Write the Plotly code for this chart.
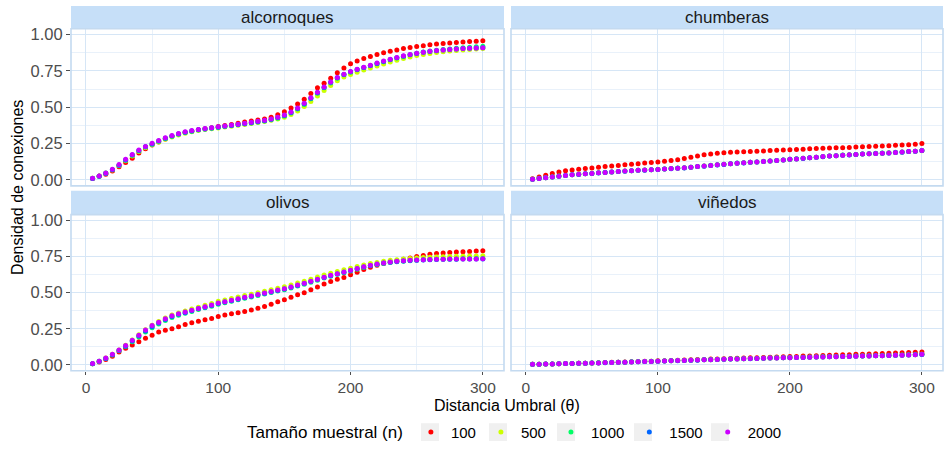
import plotly.graph_objects as go

# Umbral de distancia evaluado (eje x común a los cuatro paneles)
distancia = list(range(5, 305, 5))

tamanos = ["100", "500", "1000", "1500", "2000"]
colores = ["#FF0000", "#CCFF00", "#00FF66", "#0066FF", "#CC00FF"]
paneles = ["alcornoques", "chumberas", "olivos", "viñedos"]

# ---- alcornoques ----
alc_100 = [.010, .028, .040, .062, .090, .120, .150, .185, .215, .240,
           .262, .282, .300, .314, .326, .336, .345, .352, .360, .368,
           .375, .382, .390, .398, .405, .412, .420, .432, .448, .470,
           .495, .522, .555, .595, .635, .665, .700, .738, .770, .800,
           .818, .835, .850, .864, .875, .885, .895, .905, .912, .918,
           .924, .930, .935, .939, .943, .946, .949, .952, .955, .958]
alc_500 = [.012, .026, .046, .068, .098, .132, .165, .195, .222, .243,
           .262, .280, .296, .310, .322, .332, .340, .347, .353, .358,
           .364, .370, .376, .382, .388, .395, .402, .410, .420, .432,
           .450, .475, .505, .540, .578, .615, .650, .682, .708, .726,
           .742, .756, .770, .784, .798, .812, .824, .836, .846, .856,
           .864, .871, .877, .882, .887, .891, .895, .898, .901, .904]
alc_1000 = [.011, .026, .047, .071, .101, .136, .170, .200, .226, .246,
            .266, .285, .301, .316, .326, .336, .343, .350, .356, .362,
            .368, .374, .380, .386, .392, .399, .406, .414, .425, .440,
            .460, .488, .520, .558, .596, .634, .668, .700, .724, .742,
            .758, .772, .786, .800, .814, .828, .840, .852, .862, .872,
            .880, .887, .893, .898, .902, .906, .910, .913, .916, .920]
alc_1500 = [.010, .025, .045, .070, .102, .138, .172, .203, .228, .248,
            .268, .287, .303, .317, .328, .337, .345, .351, .357, .363,
            .369, .375, .381, .387, .394, .401, .408, .417, .429, .444,
            .464, .492, .524, .562, .600, .637, .672, .703, .726, .744,
            .760, .773, .787, .801, .815, .829, .841, .852, .862, .871,
            .878, .884, .889, .894, .898, .901, .904, .906, .908, .910]
alc_2000 = [.011, .027, .048, .073, .106, .142, .176, .206, .231, .252,
            .272, .291, .306, .320, .331, .340, .348, .354, .360, .366,
            .372, .378, .384, .390, .397, .404, .411, .420, .432, .447,
            .468, .496, .528, .565, .603, .640, .674, .705, .728, .746,
            .762, .776, .790, .804, .818, .831, .843, .854, .864, .872,
            .879, .885, .890, .894, .898, .901, .904, .906, .908, .910]

# ---- chumberas ----
chu_100 = [.008, .020, .033, .045, .055, .063, .069, .074, .078, .082,
           .087, .092, .096, .100, .104, .108, .112, .116, .120, .124,
           .128, .133, .139, .147, .156, .165, .173, .179, .184, .188,
           .190, .192, .194, .196, .198, .200, .202, .204, .206, .208,
           .210, .212, .214, .216, .218, .220, .221, .222, .224, .226,
           .228, .230, .232, .234, .236, .238, .240, .243, .246, .250]
chu_500 = [.005, .010, .016, .021, .026, .031, .035, .039, .042, .046,
           .049, .052, .055, .058, .061, .064, .066, .068, .071, .073,
           .075, .078, .081, .084, .088, .092, .096, .100, .104, .108,
           .111, .115, .118, .121, .124, .127, .130, .134, .138, .141,
           .145, .149, .153, .156, .160, .164, .167, .170, .173, .176,
           .178, .180, .182, .184, .187, .189, .192, .195, .198, .201]
chu_1000 = [.005, .011, .015, .021, .027, .031, .036, .039, .043, .045,
            .049, .053, .055, .059, .061, .064, .067, .068, .070, .072,
            .076, .078, .082, .084, .088, .093, .096, .101, .104, .108,
            .112, .116, .118, .122, .124, .128, .131, .134, .138, .142,
            .146, .149, .153, .157, .161, .165, .167, .171, .173, .176,
            .179, .181, .183, .185, .186, .190, .192, .196, .198, .203]
chu_1500 = [.005, .010, .015, .020, .026, .030, .035, .038, .042, .045,
            .048, .052, .054, .058, .060, .063, .066, .067, .070, .072,
            .075, .077, .081, .083, .087, .092, .095, .100, .103, .107,
            .112, .115, .117, .121, .123, .127, .130, .133, .137, .142,
            .145, .148, .152, .157, .160, .164, .166, .170, .172, .175,
            .178, .180, .182, .184, .186, .189, .191, .195, .197, .202]
chu_2000 = [.005, .010, .015, .021, .026, .031, .035, .039, .042, .045,
            .049, .052, .055, .058, .061, .064, .066, .068, .070, .072,
            .075, .078, .081, .084, .088, .092, .096, .100, .104, .108,
            .112, .115, .118, .121, .124, .127, .130, .134, .138, .142,
            .145, .149, .153, .157, .161, .164, .167, .170, .173, .176,
            .178, .180, .182, .184, .186, .189, .192, .195, .198, .202]

# ---- olivos ----
oli_100 = [.008, .020, .037, .060, .090, .115, .138, .160, .185, .205,
           .228, .240, .250, .265, .280, .292, .302, .312, .322, .335,
           .345, .355, .362, .370, .380, .392, .405, .420, .437, .452,
           .468, .485, .500, .520, .540, .560, .578, .593, .606, .624,
           .642, .660, .676, .690, .703, .713, .722, .731, .740, .750,
           .758, .766, .771, .775, .779, .782, .784, .786, .788, .790]
oli_500 = [.008, .026, .047, .073, .104, .136, .172, .208, .244, .274,
           .300, .325, .345, .360, .373, .387, .400, .413, .426, .440,
           .450, .460, .470, .480, .490, .500, .510, .520, .531, .542,
           .554, .567, .580, .594, .608, .622, .635, .647, .659, .670,
           .681, .692, .702, .710, .718, .724, .729, .733, .737, .740,
           .743, .745, .747, .749, .751, .752, .753, .754, .755, .756]
oli_1000 = [.008, .024, .044, .068, .098, .127, .160, .194, .228, .258,
            .284, .308, .328, .344, .357, .370, .383, .395, .407, .420,
            .431, .441, .451, .461, .471, .481, .491, .501, .511, .521,
            .533, .546, .559, .573, .587, .601, .614, .627, .639, .651,
            .663, .675, .686, .695, .703, .709, .714, .718, .722, .725,
            .728, .730, .731, .732, .733, .734, .735, .735, .736, .737]
oli_1500 = [.008, .025, .045, .070, .100, .130, .165, .200, .235, .265,
            .290, .315, .335, .350, .362, .375, .388, .400, .412, .425,
            .435, .445, .455, .465, .475, .485, .495, .505, .515, .525,
            .537, .550, .563, .577, .591, .605, .618, .630, .642, .654,
            .666, .678, .688, .697, .705, .711, .716, .720, .723, .725,
            .727, .729, .730, .731, .732, .732, .733, .733, .733, .734]
oli_2000 = [.009, .026, .047, .073, .104, .135, .170, .206, .242, .272,
            .296, .320, .340, .355, .366, .379, .391, .403, .415, .428,
            .438, .448, .458, .468, .478, .488, .498, .508, .518, .528,
            .540, .553, .566, .580, .594, .607, .620, .632, .644, .656,
            .668, .680, .690, .698, .706, .712, .717, .721, .724, .726,
            .728, .730, .731, .732, .733, .733, .734, .734, .734, .735]

# ---- viñedos ----
vin_100 = [.004, .005, .006, .007, .008, .009, .010, .011, .012, .014,
           .015, .016, .018, .019, .020, .022, .023, .025, .026, .028,
           .029, .031, .032, .034, .035, .037, .038, .040, .041, .043,
           .044, .046, .047, .049, .050, .052, .053, .055, .056, .058,
           .059, .061, .062, .064, .065, .067, .068, .070, .071, .073,
           .074, .076, .077, .079, .080, .082, .084, .086, .088, .090]
vin_500 = [.004, .005, .006, .007, .008, .009, .010, .011, .012, .013,
           .014, .016, .017, .018, .019, .020, .022, .023, .024, .026,
           .027, .028, .030, .031, .032, .034, .035, .036, .038, .039,
           .040, .041, .043, .044, .045, .046, .047, .048, .049, .050,
           .051, .052, .053, .054, .055, .056, .057, .058, .059, .060,
           .061, .062, .063, .064, .065, .066, .067, .069, .071, .073]
vin_1000 = [.004, .005, .006, .007, .008, .009, .010, .011, .012, .013,
            .015, .016, .017, .018, .019, .021, .022, .023, .025, .026,
            .027, .029, .030, .031, .033, .034, .035, .037, .038, .039,
            .040, .042, .043, .044, .045, .046, .047, .049, .050, .051,
            .052, .053, .054, .055, .056, .057, .058, .059, .060, .061,
            .062, .063, .064, .065, .066, .067, .068, .070, .072, .074]
vin_1500 = [.004, .005, .006, .007, .008, .009, .010, .011, .012, .013,
            .014, .015, .017, .018, .019, .020, .021, .023, .024, .025,
            .027, .028, .029, .031, .032, .033, .035, .036, .037, .039,
            .040, .041, .042, .043, .045, .046, .047, .048, .049, .050,
            .051, .052, .053, .054, .055, .056, .057, .058, .059, .060,
            .061, .062, .063, .064, .065, .066, .067, .068, .070, .072]
vin_2000 = [.004, .005, .006, .007, .008, .009, .010, .011, .012, .013,
            .014, .016, .017, .018, .019, .020, .022, .023, .024, .026,
            .027, .028, .030, .031, .032, .034, .035, .036, .038, .039,
            .040, .041, .043, .044, .045, .046, .047, .048, .049, .050,
            .051, .052, .053, .054, .055, .056, .057, .058, .059, .060,
            .061, .062, .063, .064, .065, .066, .067, .069, .071, .073]

densidad = {
    "alcornoques": [alc_100, alc_500, alc_1000, alc_1500, alc_2000],
    "chumberas": [chu_100, chu_500, chu_1000, chu_1500, chu_2000],
    "olivos": [oli_100, oli_500, oli_1000, oli_1500, oli_2000],
    "viñedos": [vin_100, vin_500, vin_1000, vin_1500, vin_2000],
}

W, H = 947, 449
FONT = "Liberation Sans, Arial, sans-serif"
STRIP_FILL = "#C6DFF8"
BORDER = "#C4DAF0"
GRID_MAJOR = "#D6E6F6"
GRID_MINOR = "#E9F1FA"
KEY_FILL = "#F0F0F0"


def fx(p):
    return p / W


def fy(p):
    return 1 - p / H


# panel boxes in pixels: (left, right) per column, (top, bottom, strip top) per row
cols = [(71, 504), (511, 943)]
rows = [(29, 188, 6), (217, 375, 193)]

fig = go.Figure()
layout = {}
shapes = []
annotations = []

for k, panel in enumerate(paneles):
    r, c = divmod(k, 2)
    left, right = cols[c]
    top, bottom, strip_top = rows[r]
    suffix = "" if k == 0 else str(k + 1)
    xa, ya = "x" + suffix, "y" + suffix

    for i, n in enumerate(tamanos):
        fig.add_trace(go.Scatter(
            x=distancia, y=densidad[panel][i], mode="markers",
            marker=dict(color=colores[i], size=5, line=dict(width=0)),
            name=n, legendgroup=n, showlegend=(k == 0),
            xaxis=xa, yaxis=ya, hoverinfo="skip",
        ))

    layout["xaxis" + suffix] = dict(
        domain=[fx(left), fx(right)], anchor=ya,
        range=[-11.3, 316], tickvals=[0, 100, 200, 300],
        showticklabels=(r == 1), ticks="outside" if r == 1 else "",
        ticklen=3, tickwidth=1, tickcolor="#4D4D4D",
        tickfont=dict(family=FONT, size=15.5, color="#4D4D4D"),
        showgrid=True, gridcolor=GRID_MAJOR, gridwidth=1.3,
        minor=dict(tickvals=[50, 150, 250], showgrid=True,
                   gridcolor=GRID_MINOR, gridwidth=1),
        zeroline=False, showline=False, automargin=False, fixedrange=True,
    )
    layout["yaxis" + suffix] = dict(
        domain=[fy(bottom), fy(top)], anchor=xa,
        range=[-0.041, 1.041], tickvals=[0, 0.25, 0.5, 0.75, 1.0],
        ticktext=["0.00", "0.25", "0.50", "0.75", "1.00"],
        showticklabels=(c == 0), ticks="outside" if c == 0 else "",
        ticklen=4, tickwidth=1, tickcolor="#4D4D4D",
        tickfont=dict(family=FONT, size=16.5, color="#4D4D4D"),
        showgrid=True, gridcolor=GRID_MAJOR, gridwidth=1.3,
        minor=dict(tickvals=[0.125, 0.375, 0.625, 0.875], showgrid=True,
                   gridcolor=GRID_MINOR, gridwidth=1),
        zeroline=False, showline=False, automargin=False, fixedrange=True,
    )

    # panel border
    shapes.append(dict(type="rect", xref=xa + " domain", yref=ya + " domain",
                       x0=0, x1=1, y0=0, y1=1, line=dict(color=BORDER, width=1.6),
                       fillcolor="rgba(0,0,0,0)", layer="above"))
    # strip
    shapes.append(dict(type="rect", xref="paper", yref="paper",
                       x0=fx(left), x1=fx(right), y0=fy(top), y1=fy(strip_top),
                       line=dict(width=0), fillcolor=STRIP_FILL, layer="below"))
    annotations.append(dict(text=panel, xref="paper", yref="paper",
                            x=(fx(left) + fx(right)) / 2, y=(fy(top) + fy(strip_top)) / 2,
                            xanchor="center", yanchor="middle", showarrow=False,
                            font=dict(family=FONT, size=17, color="#1A1A1A")))

annotations.append(dict(text="Distancia Umbral (θ)", xref="paper", yref="paper",
                        x=fx(507), y=fy(410), xanchor="center", yanchor="middle",
                        showarrow=False, borderpad=0,
                        font=dict(family=FONT, size=16, color="#000000")))
annotations.append(dict(text="Densidad de conexiones", xref="paper", yref="paper",
                        x=fx(18), y=fy(190), xanchor="center", yanchor="middle",
                        textangle=-90, showarrow=False,
                        font=dict(family=FONT, size=16, color="#000000")))

# grey legend key backgrounds
for cx in [430, 498, 566, 643, 720]:
    shapes.append(dict(type="rect", xref="paper", yref="paper",
                       x0=fx(cx - 9), x1=fx(cx + 9), y0=fy(446), y1=fy(428),
                       line=dict(width=0), fillcolor=KEY_FILL, layer="below"))

fig.update_layout(
    width=W, height=H,
    margin=dict(l=0, r=0, t=0, b=0),
    paper_bgcolor="white", plot_bgcolor="white",
    shapes=shapes, annotations=annotations,
    showlegend=True,
    legend=dict(
        orientation="h", x=fx(245), y=fy(437), xanchor="left", yanchor="middle",
        title=dict(text="Tamaño muestral (n)", side="left",
                   font=dict(family=FONT, size=17, color="#000000")),
        font=dict(family=FONT, size=15, color="#000000"),
        bgcolor="rgba(0,0,0,0)",
    ),
    **layout,
)

fig.write_html("out.html")
